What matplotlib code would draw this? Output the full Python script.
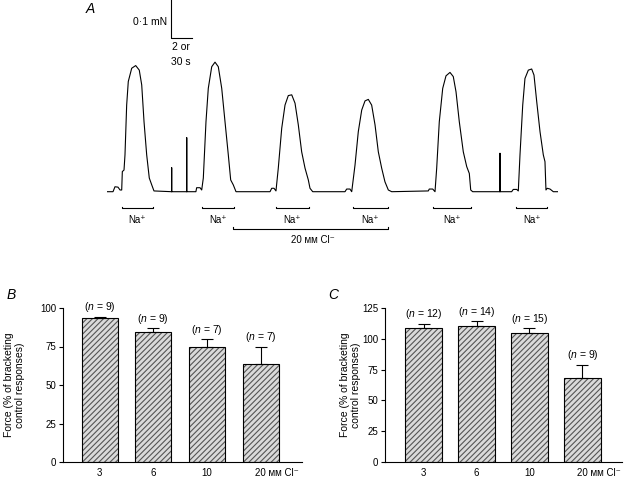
import matplotlib
matplotlib.use("Agg")
import matplotlib.pyplot as plt

plt.rcParams['font.family'] = ['Liberation Sans', 'DejaVu Sans']
plt.rcParams['mathtext.fontset'] = 'custom'
plt.rcParams['mathtext.it'] = 'Liberation Sans:italic'
plt.rcParams['mathtext.rm'] = 'Liberation Sans'
plt.rcParams['hatch.linewidth'] = 0.8

# ---- panel A: force trace (time in s, force in uN)
trace_t = [0, 8.6, 11.4, 15.7, 18.6, 21, 21.9, 24.3, 25.7, 28.1, 30.4, 35.3, 41, 46.1, 49.6,
           52.9, 56.7, 60.4, 63.9, 67.1, 92.4, 92.4, 92.4, 113.9, 113.9, 113.9,
           127, 128.1, 132.9, 135.3, 137.6, 141.4, 144.7, 149.6, 154.3, 159, 163.9, 168.6,
           173.3, 176.7, 180.4, 184.3,
           232.9, 235.3, 238.6, 241.4, 244.7, 249.6, 254.3, 259, 263.9, 268.6, 273.3, 278.1,
           282.9, 287.6, 290, 293.9,
           340, 342.4, 347.1, 349.6, 354.3, 359, 363.9, 368.6, 373.3, 378.1, 382.9, 387.6,
           392.4, 397.1, 401.9, 406.7,
           459, 460.4, 465.3, 468.6, 471, 474.7, 479.6, 484.3, 490, 494.7, 498.6, 503.3, 509,
           513.9, 517.6, 519.6, 522.4, 561.4, 561.4, 561.4,
           578.1, 580.4, 585.3, 587.6, 590, 593.9, 597.1, 601.9, 606.7, 610, 613.9, 618.6,
           623.3, 625.7, 627.1, 629, 632.9, 637.6, 644.3]
trace_f = [0, 0, 13, 12, 4.5, 4.5, 53, 57, 97, 228, 290, 325, 332, 320, 281,
           184, 97, 36, 18, 2, 0, 63, 0, 0, 142, 0,
           0, 10.5, 10.5, 4.5, 36, 184, 272, 329, 341, 329, 272, 184,
           97, 31, 18, 0,
           0, 9, 9, 2, 62, 167, 228, 253, 255, 233, 176, 105,
           62, 31, 9, 0,
           0, 7, 7, 0, 70, 158, 215, 239, 243, 228, 176, 105,
           62, 26, 4.5, 0,
           2, 7, 7, 0, 62, 184, 272, 305, 314, 303, 263, 184, 105,
           66, 48, 4.5, 0, 0, 101, 0,
           0, 6, 6, 2, 97, 228, 298, 320, 323, 307, 237, 158,
           97, 79, 4.5, 9, 7, 0, 0]

na_start = [21.4, 135.7, 241.4, 351.4, 465.7, 584.3]
na_end = [65.7, 181.4, 288.6, 401.4, 520.0, 628.6]
cl_start, cl_end = 180.0, 401.4

# ---- panels B and C
bar_labels = ['3', '6', '10', '20 ᴍᴍ Cl⁻']
b_vals = [93.3, 84.2, 74.5, 63.4]
b_err = [1.0, 2.6, 5.2, 11.5]
b_n = [9, 9, 7, 7]
c_vals = [108.5, 110.4, 104.4, 67.9]
c_err = [3.5, 3.8, 4.1, 10.8]
c_n = [12, 14, 15, 9]

W, H = 627, 478
fig = plt.figure(figsize=(W / 100, H / 100), dpi=100)


def box(x0, y0, x1, y1):
    # pixel box (top-left origin) -> figure fraction
    return [x0 / W, 1 - y1 / H, (x1 - x0) / W, (y1 - y0) / H]


axA = fig.add_axes(box(107, 0, 558, 245))
axA.plot(trace_t, trace_f, color='black', lw=0.8)
axA.set_xlim(0, 644.3)
axA.set_ylim(-140.3, 504.6)
axA.axis('off')

# scale bar: 100 uN, 30 s
axA.plot([91.4, 91.4, 121.4], [504.6, 404.5, 404.5], color='black', lw=0.8, clip_on=False)
axA.text(85.7, 446, '0·1 mN', ha='right', va='center', fontsize=7.5)
axA.text(106, 381, '2 or', ha='center', va='center', fontsize=7.5)
axA.text(106, 341, '30 s', ha='center', va='center', fontsize=7.5)

for s, e in zip(na_start, na_end):
    axA.plot([s, s, e, e], [-39, -43, -43, -39], color='black', lw=0.8)
    axA.text((s + e) / 2, -74, 'Na⁺', ha='center', va='center', fontsize=7)
axA.plot([cl_start, cl_start, cl_end, cl_end], [-94, -98, -98, -94], color='black', lw=0.8)
axA.text((cl_start + cl_end) / 2 + 4, -126, '20 ᴍᴍ Cl⁻', ha='center', va='center', fontsize=7)

fig.text(90 / W, 1 - 9 / H, 'A', style='italic', fontsize=10, ha='center', va='center')


def bar_panel(rect, vals, errs, ns, xlim, ymax, yticks, width, labx):
    ax = fig.add_axes(rect)
    x = list(range(len(vals)))
    ax.bar(x, vals, width, color='#dadada', edgecolor='#555555', hatch='//////', linewidth=0)
    ax.bar(x, vals, width, fill=False, edgecolor='black', linewidth=0.8)
    ax.errorbar(x, vals, yerr=[[0] * len(errs), errs], fmt='none', ecolor='black',
                elinewidth=0.8, capsize=4, capthick=0.8)
    for xi, v, e, n in zip(x, vals, errs, ns):
        ax.annotate(f'($n$ = {n})', (xi, v + e), xytext=(0, 7), textcoords='offset points',
                    ha='center', va='center', fontsize=7.5)
    for xi, lab in zip(x, bar_labels):
        if xi == len(x) - 1:
            ax.annotate(lab, (xi, 0), xycoords=('data', 'axes fraction'), xytext=(-4, -8),
                        textcoords='offset points', ha='left', va='center', fontsize=7)
        else:
            ax.annotate(lab, (xi, 0), xycoords=('data', 'axes fraction'), xytext=(0, -8),
                        textcoords='offset points', ha='center', va='center', fontsize=7)
    ax.set_xlim(*xlim)
    ax.set_ylim(0, ymax)
    ax.set_yticks(yticks)
    ax.set_xticks([])
    ax.tick_params(axis='y', direction='out', length=3, width=0.8, labelsize=7, pad=2)
    for side in ['top', 'right']:
        ax.spines[side].set_visible(False)
    for side in ['left', 'bottom']:
        ax.spines[side].set_linewidth(0.8)
    ax.set_ylabel('Force (% of bracketing\ncontrol responses)', fontsize=7.5, linespacing=1.1)
    ax.yaxis.set_label_coords(labx, 0.5)
    return ax


bar_panel(box(63, 308, 302, 462), b_vals, b_err, b_n, (-0.68, 3.77), 100,
          [0, 25, 50, 75, 100], 0.67, -0.16)
bar_panel(box(385, 308, 622, 462), c_vals, c_err, c_n, (-0.73, 3.75), 125,
          [0, 25, 50, 75, 100, 125], 0.70, -0.10)

fig.text(11 / W, 1 - 295 / H, 'B', style='italic', fontsize=10, ha='center', va='center')
fig.text(333 / W, 1 - 295 / H, 'C', style='italic', fontsize=10, ha='center', va='center')

fig.savefig('out.png', dpi=100)
